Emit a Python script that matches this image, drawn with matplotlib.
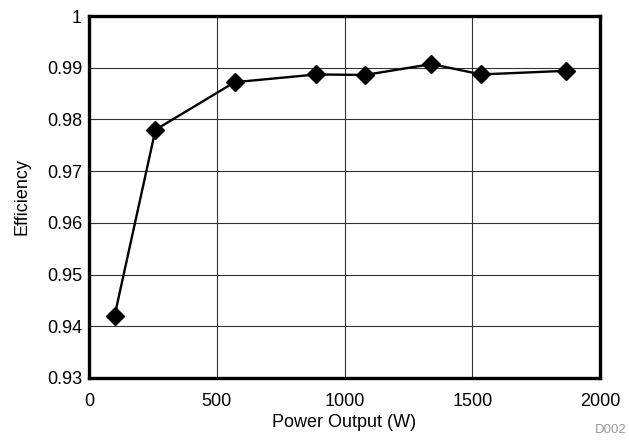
import matplotlib
matplotlib.use("Agg")
import matplotlib.pyplot as plt

power_w = [100, 260, 570, 890, 1080, 1340, 1535, 1865]
efficiency = [0.942, 0.978, 0.9872, 0.9887, 0.9886, 0.9907, 0.9887, 0.9894]

x_ticks = [0, 500, 1000, 1500, 2000]
y_ticks = [0.93, 0.94, 0.95, 0.96, 0.97, 0.98, 0.99, 1.0]
y_tick_labels = ["0.93", "0.94", "0.95", "0.96", "0.97", "0.98", "0.99", "1"]

plt.rcParams['font.family'] = ['Liberation Sans', 'DejaVu Sans']

fig = plt.figure(figsize=(6.29, 4.41), dpi=100)
ax = fig.add_axes([0.1415, 0.1429, 0.8125, 0.8208])

ax.plot(power_w, efficiency, color='black', lw=1.7, marker='D', ms=9, zorder=3)

ax.set_xlim(0, 2000)
ax.set_ylim(0.93, 1.0)
ax.set_xticks(x_ticks)
ax.set_yticks(y_ticks)
ax.set_yticklabels(y_tick_labels)
ax.tick_params(length=0, labelsize=13)
ax.tick_params(axis='x', pad=11)
ax.tick_params(axis='y', pad=5)
ax.grid(True, color='#333333', lw=0.8)
ax.set_axisbelow(True)
for s in ax.spines.values():
    s.set_linewidth(2.4)

ax.set_xlabel("Power Output (W)", fontsize=13, labelpad=3)
ax.set_ylabel("Efficiency", fontsize=13, labelpad=12)
fig.text(0.997, 0.012, "D002", color='#999999', fontsize=9.5, ha='right', va='bottom')

fig.savefig("out.png", dpi=100)
